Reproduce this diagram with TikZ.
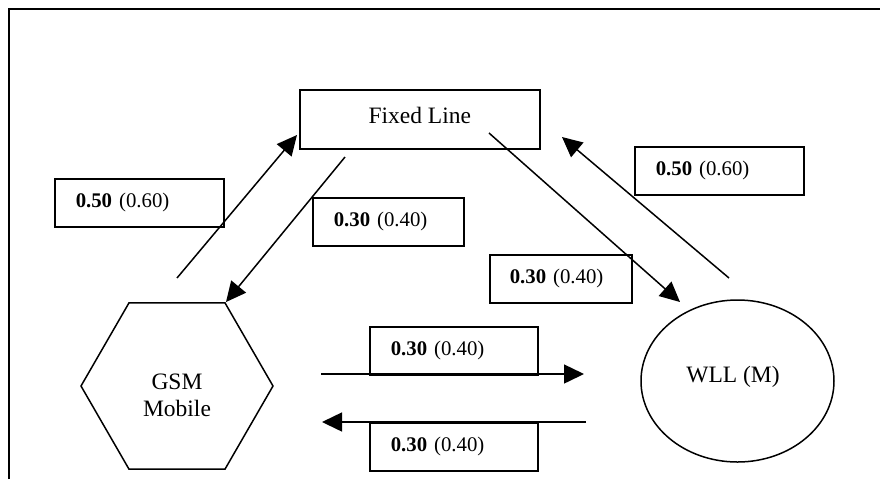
\documentclass[tikz,border=0pt]{standalone}
\usepackage{fontspec}
\setmainfont{Liberation Serif}
\usetikzlibrary{arrows.meta,shapes.geometric}
\begin{document}
\begin{tikzpicture}[x=0.5pt,y=-0.5pt,
  lbl/.style={draw, line width=0.75pt, minimum height=24pt, inner xsep=10.5pt, inner ysep=0pt,
    align=left, anchor=north west, font=\fontsize{10.4}{12}\selectfont},
  shapeline/.style={draw, line width=0.75pt, inner sep=0pt},
  nodetext/.style={font=\fontsize{11.75}{13.5}\selectfont, align=center},
  conn/.style={line width=0.75pt, -{Triangle[length=10pt,width=9.5pt]}}]
\useasboundingbox (0,0) rectangle (880,479);
% frame
\draw[line width=1.2pt] (9,479) -- (9,9) -- (880,9);
% main nodes
\node[shapeline, anchor=north west, minimum width=120pt, minimum height=29.5pt,
      nodetext, text depth=4pt] (fixed) at (299,89) {Fixed Line};
\node[shapeline, regular polygon, regular polygon sides=6, minimum size=96pt] (gsm) at (177,386) {};
\node[nodetext] (gsmtext) at (177,395) {GSM\\Mobile};
\node[shapeline, ellipse, minimum width=96.5pt, minimum height=81pt] (wll) at (737.5,381) {};
\node[nodetext, anchor=base] (wlltext) at (733,382) {WLL (M)};
% labels
\node[lbl, text width=63.5pt] (l1) at (54,178) {\textbf{0.50} (0.60)};
\node[lbl, text width=54.5pt] (l2) at (312,197) {\textbf{0.30} (0.40)};
\node[lbl, text width=63.5pt] (l3) at (634,146) {\textbf{0.50} (0.60)};
\node[lbl, text width=51pt, inner xsep=10pt] (l4) at (489,254) {\textbf{0.30} (0.40)};
\node[lbl, text width=63pt] (l5) at (369,326) {\textbf{0.30} (0.40)};
\node[lbl, text width=63pt] (l6) at (369,422) {\textbf{0.30} (0.40)};
% connector end points
\coordinate (a1) at (177,278); \coordinate (a2) at (297,135);
\coordinate (b1) at (345,157); \coordinate (b2) at (226,302);
\coordinate (c1) at (489,133); \coordinate (c2) at (680,302);
\coordinate (d1) at (729,278); \coordinate (d2) at (562,137);
\coordinate (e1) at (321,374); \coordinate (e2) at (584,374);
\coordinate (f1) at (586,422); \coordinate (f2) at (322,422);
% connectors
\draw[conn] (a1) -- (a2);
\draw[conn] (b1) -- (b2);
\draw[conn] (c1) -- (c2);
\draw[conn] (d1) -- (d2);
\draw[conn] (e1) -- (e2);
\draw[conn] (f1) -- (f2);
\end{tikzpicture}
\end{document}
